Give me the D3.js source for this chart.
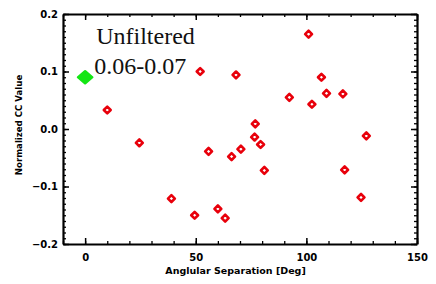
<!DOCTYPE html>
<html>
<head>
<meta charset="utf-8">
<script src="https://cdn.jsdelivr.net/npm/d3@7"></script>
<style>
  body { margin: 0; background: #fff; }
  svg { display: block; }
  .axis path, .axis line { stroke: #000; }
  .axis text { font-family: "DejaVu Sans", sans-serif; font-weight: bold; font-size: 10px; fill: #000; }
</style>
</head>
<body>
<svg id="chart"></svg>
<script>
// values
const angles = [10, 24.5, 39, 49.5, 52, 55.8, 60, 63.3, 66.2, 68.2, 70.4, 76.9, 76.6, 79.3, 81, 92.3, 101, 102.5, 106.8, 109.1, 116.5, 117.3, 124.7, 127.1];
const ccValues = [0.033, -0.024, -0.121, -0.150, 0.100, -0.039, -0.139, -0.155, -0.048, 0.094, -0.035, 0.009, -0.014, -0.027, -0.072, 0.055, 0.165, 0.043, 0.090, 0.062, 0.061, -0.071, -0.119, -0.012];
const refAngle = [0];
const refValue = [0.090];
const xTicks = [0, 50, 100, 150];
const yTicks = [-0.2, -0.1, 0.0, 0.1, 0.2];
const labelLines = ['Unfiltered', '0.06-0.07'];

const width = 436, height = 284;
const margin = { top: 14, right: 19, bottom: 40, left: 63 };
const w = width - margin.left - margin.right;
const h = height - margin.top - margin.bottom;

const svg = d3.select('#chart')
    .attr('width', width)
    .attr('height', height);
const g = svg.append('g').attr('transform', `translate(${margin.left},${margin.top})`);

const x = d3.scaleLinear().domain([-10, 150]).range([0, w]);
const y = d3.scaleLinear().domain([-0.2, 0.2]).range([h, 0]);

const xMinor = d3.range(-10, 151, 10);
const yMinor = d3.range(-20, 21).map(d => d / 100);

// minor ticks (all four sides, pointing inward)
function minorAxis(axisFn, scale, vals, tx) {
    g.append('g').attr('class', 'axis').attr('transform', tx)
        .call(axisFn(scale).tickValues(vals).tickSize(-3).tickFormat(''))
        .call(a => a.select('.domain').remove())
        .selectAll('line').attr('stroke-width', 1.3);
}
minorAxis(d3.axisBottom, x, xMinor, `translate(0,${h})`);
minorAxis(d3.axisTop, x, xMinor, 'translate(0,0)');
minorAxis(d3.axisLeft, y, yMinor, 'translate(0,0)');
minorAxis(d3.axisRight, y, yMinor, `translate(${w},0)`);

// major ticks
const xAxis = g.append('g').attr('class', 'axis').attr('transform', `translate(0,${h})`)
    .call(d3.axisBottom(x).tickValues(xTicks).tickSize(-6).tickPadding(8).tickSizeOuter(0));
xAxis.selectAll('text').attr('dy', '0.9em');
g.append('g').attr('class', 'axis')
    .call(d3.axisTop(x).tickValues(xTicks).tickSize(-6).tickFormat('').tickSizeOuter(0));
g.append('g').attr('class', 'axis')
    .call(d3.axisLeft(y).tickValues(yTicks).tickSize(-6).tickPadding(5).tickSizeOuter(0).tickFormat(d3.format('.1f')));
g.append('g').attr('class', 'axis').attr('transform', `translate(${w},0)`)
    .call(d3.axisRight(y).tickValues(yTicks).tickSize(-6).tickFormat('').tickSizeOuter(0));

g.selectAll('.axis line').filter(function () { return d3.select(this).attr('stroke-width') === null; })
    .attr('stroke-width', 1.5);
g.selectAll('.axis .domain').attr('stroke-width', 2.2);

// axis titles
svg.append('text')
    .attr('x', margin.left + x(68))
    .attr('y', 274)
    .attr('text-anchor', 'middle')
    .style('font-family', '"DejaVu Sans", sans-serif')
    .style('font-weight', 'bold')
    .style('font-size', '9.5px')
    .text('Anglular Separation [Deg]');

svg.append('text')
    .attr('transform', `translate(22,${margin.top + y(0.007)}) rotate(-90)`)
    .attr('text-anchor', 'middle')
    .style('font-family', '"DejaVu Sans", sans-serif')
    .style('font-weight', 'bold')
    .style('font-size', '8.6px')
    .text('Normalized CC Value');

// red open diamonds
const diamond = d3.symbol().type(d3.symbolDiamond2);
g.selectAll('.pt')
    .data(angles.map((a, i) => [a, ccValues[i]]))
    .enter()
    .append('path')
    .attr('class', 'pt')
    .attr('d', diamond.size(30)())
    .attr('transform', d => `translate(${x(d[0])},${y(d[1])})`)
    .attr('fill', 'none')
    .attr('stroke', '#e8000b')
    .attr('stroke-width', 2.6)
    .attr('stroke-linejoin', 'round');

// green filled reference point
g.selectAll('.ref')
    .data(refAngle.map((a, i) => [a, refValue[i]]))
    .enter()
    .append('path')
    .attr('class', 'ref')
    .attr('d', diamond.size(100)())
    .attr('transform', d => `translate(${x(d[0])},${y(d[1])}) scale(1.15,1)`)
    .attr('fill', '#14e614')
    .attr('stroke', '#14e614')
    .attr('stroke-width', 2)
    .attr('stroke-linejoin', 'round');

// label
g.selectAll('.lbl')
    .data(labelLines)
    .enter()
    .append('text')
    .attr('class', 'lbl')
    .attr('x', (d, i) => x(5) + (i === 0 ? 0 : -2))
    .attr('y', (d, i) => 30 + i * 30)
    .style('font-family', '"Liberation Serif", "Times New Roman", serif')
    .style('font-size', '24px')
    .style('fill', '#111')
    .text(d => d);
</script>
</body>
</html>
